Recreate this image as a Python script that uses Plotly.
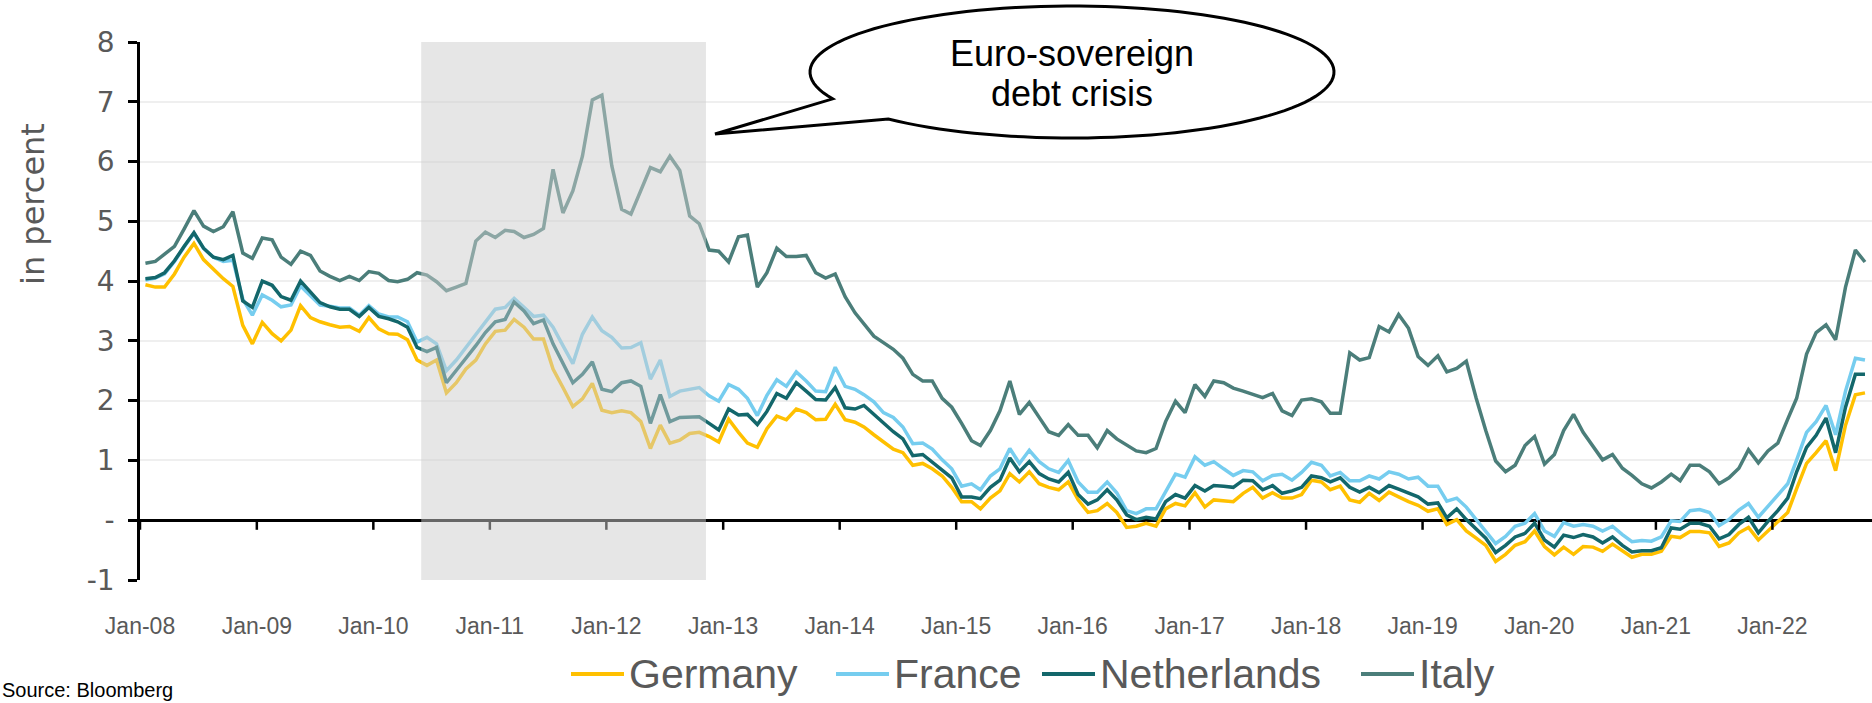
import math
import pandas as pd
import plotly.graph_objects as go

germany = [
    3.94, 3.90, 3.90, 4.12, 4.40, 4.63, 4.36, 4.20, 4.04, 3.91,
    3.26, 2.95, 3.31, 3.12, 3.00, 3.18, 3.59, 3.39, 3.32, 3.27,
    3.23, 3.24, 3.16, 3.39, 3.20, 3.12, 3.11, 3.02, 2.68, 2.59,
    2.68, 2.13, 2.30, 2.53, 2.68, 2.95, 3.16, 3.18, 3.36, 3.23,
    3.03, 3.03, 2.53, 2.22, 1.90, 2.03, 2.29, 1.84, 1.80, 1.83,
    1.80, 1.65, 1.20, 1.59, 1.29, 1.34, 1.45, 1.47, 1.40, 1.31,
    1.69, 1.47, 1.29, 1.22, 1.53, 1.74, 1.68, 1.86, 1.80, 1.68,
    1.69, 1.94, 1.68, 1.64, 1.56, 1.43, 1.31, 1.19, 1.13, 0.92,
    0.95, 0.86, 0.74, 0.55, 0.31, 0.31, 0.19, 0.37, 0.49, 0.78,
    0.64, 0.81, 0.61, 0.55, 0.51, 0.64, 0.34, 0.13, 0.16, 0.28,
    0.13, -0.12, -0.10, -0.05, -0.10, 0.19, 0.28, 0.24, 0.46, 0.22,
    0.34, 0.32, 0.31, 0.45, 0.55, 0.37, 0.46, 0.37, 0.37, 0.43,
    0.67, 0.64, 0.51, 0.57, 0.34, 0.30, 0.45, 0.33, 0.47, 0.39,
    0.31, 0.25, 0.15, 0.19, -0.07, 0.01, -0.18, -0.30, -0.42, -0.69,
    -0.57, -0.42, -0.36, -0.18, -0.44, -0.58, -0.45, -0.57, -0.44, -0.45,
    -0.52, -0.40, -0.52, -0.62, -0.57, -0.57, -0.52, -0.27, -0.29, -0.19,
    -0.19, -0.21, -0.44, -0.38, -0.21, -0.12, -0.33, -0.18, -0.02, 0.13,
    0.53, 0.95, 1.13, 1.33, 0.83, 1.59, 2.10, 2.13,
]

france = [
    4.02, 4.05, 4.12, 4.33, 4.57, 4.80, 4.55, 4.40, 4.33, 4.35,
    3.70, 3.43, 3.77, 3.68, 3.57, 3.60, 3.92, 3.75, 3.60, 3.58,
    3.55, 3.55, 3.43, 3.59, 3.45, 3.40, 3.40, 3.32, 2.98, 3.06,
    2.95, 2.50, 2.68, 2.89, 3.11, 3.32, 3.53, 3.56, 3.71, 3.56,
    3.41, 3.43, 3.23, 2.92, 2.62, 3.11, 3.40, 3.17, 3.06, 2.88,
    2.89, 2.97, 2.36, 2.68, 2.07, 2.16, 2.19, 2.22, 2.08, 1.99,
    2.27, 2.19, 2.04, 1.75, 2.09, 2.35, 2.24, 2.48, 2.33, 2.16,
    2.15, 2.56, 2.24, 2.19, 2.10, 1.98, 1.80, 1.72, 1.56, 1.28,
    1.29, 1.19, 1.01, 0.86, 0.57, 0.61, 0.51, 0.74, 0.86, 1.20,
    0.95, 1.17, 0.98, 0.86, 0.80, 1.00, 0.64, 0.47, 0.47, 0.64,
    0.46, 0.16, 0.11, 0.19, 0.19, 0.49, 0.77, 0.72, 1.06, 0.92,
    0.98, 0.86, 0.75, 0.83, 0.81, 0.66, 0.75, 0.77, 0.67, 0.80,
    0.97, 0.92, 0.74, 0.80, 0.66, 0.66, 0.74, 0.69, 0.81, 0.77,
    0.69, 0.72, 0.57, 0.57, 0.32, 0.37, 0.22, 0.01, -0.18, -0.39,
    -0.27, -0.10, -0.05, 0.11, -0.18, -0.27, -0.04, -0.10, -0.07, -0.10,
    -0.18, -0.10, -0.24, -0.36, -0.34, -0.35, -0.28, -0.01, -0.02, 0.16,
    0.18, 0.13, -0.09, 0.01, 0.17, 0.28, 0.05, 0.23, 0.43, 0.61,
    1.01, 1.47, 1.65, 1.92, 1.43, 2.16, 2.71, 2.68,
]

netherlands = [
    4.04, 4.06, 4.14, 4.34, 4.58, 4.81, 4.55, 4.40, 4.36, 4.43,
    3.67, 3.56, 4.00, 3.93, 3.74, 3.68, 4.00, 3.81, 3.64, 3.57,
    3.53, 3.53, 3.41, 3.56, 3.41, 3.37, 3.32, 3.23, 2.89, 2.82,
    2.89, 2.30, 2.50, 2.71, 2.92, 3.14, 3.32, 3.36, 3.65, 3.50,
    3.29, 3.35, 2.95, 2.62, 2.30, 2.44, 2.65, 2.19, 2.15, 2.30,
    2.33, 2.24, 1.62, 2.10, 1.65, 1.72, 1.73, 1.73, 1.62, 1.51,
    1.86, 1.76, 1.77, 1.60, 1.82, 2.12, 2.04, 2.30, 2.16, 2.02,
    2.01, 2.22, 1.88, 1.86, 1.92, 1.77, 1.62, 1.48, 1.36, 1.08,
    1.10, 0.98, 0.84, 0.71, 0.39, 0.39, 0.36, 0.55, 0.67, 1.04,
    0.81, 0.98, 0.78, 0.69, 0.64, 0.80, 0.43, 0.27, 0.34, 0.51,
    0.34, 0.09, 0.01, 0.05, 0.02, 0.31, 0.43, 0.37, 0.58, 0.49,
    0.58, 0.57, 0.55, 0.67, 0.66, 0.51, 0.58, 0.45, 0.49, 0.55,
    0.74, 0.71, 0.64, 0.71, 0.55, 0.47, 0.55, 0.46, 0.58, 0.52,
    0.45, 0.39, 0.27, 0.29, 0.04, 0.19, 0.01, -0.15, -0.30, -0.54,
    -0.42, -0.28, -0.22, -0.05, -0.33, -0.45, -0.25, -0.29, -0.24, -0.28,
    -0.38, -0.28, -0.42, -0.53, -0.51, -0.51, -0.46, -0.13, -0.15, -0.05,
    -0.05, -0.10, -0.31, -0.24, -0.07, 0.05, -0.21, -0.02, 0.16, 0.37,
    0.81, 1.22, 1.42, 1.71, 1.13, 1.89, 2.44, 2.44,
]

italy = [
    4.30, 4.33, 4.45, 4.58, 4.87, 5.18, 4.92, 4.83, 4.91, 5.16,
    4.47, 4.38, 4.72, 4.69, 4.40, 4.28, 4.50, 4.43, 4.17, 4.08,
    4.01, 4.08, 4.01, 4.16, 4.13, 4.01, 3.99, 4.03, 4.14, 4.10,
    3.99, 3.84, 3.90, 3.96, 4.67, 4.82, 4.73, 4.85, 4.83, 4.73,
    4.78, 4.88, 5.87, 5.14, 5.51, 6.09, 7.03, 7.11, 5.93, 5.20,
    5.12, 5.52, 5.90, 5.83, 6.09, 5.85, 5.09, 4.96, 4.52, 4.50,
    4.32, 4.74, 4.77, 3.90, 4.14, 4.55, 4.41, 4.41, 4.43, 4.14,
    4.05, 4.12, 3.74, 3.47, 3.29, 3.08, 2.97, 2.86, 2.71, 2.44,
    2.33, 2.33, 2.04, 1.89, 1.62, 1.33, 1.25, 1.50, 1.83, 2.33,
    1.77, 1.97, 1.72, 1.48, 1.42, 1.60, 1.42, 1.42, 1.21, 1.50,
    1.36, 1.26, 1.16, 1.13, 1.20, 1.65, 1.99, 1.80, 2.27, 2.07,
    2.33, 2.30, 2.21, 2.16, 2.10, 2.05, 2.12, 1.83, 1.75, 2.01,
    2.03, 1.98, 1.79, 1.79, 2.80, 2.68, 2.72, 3.24, 3.15, 3.44,
    3.21, 2.74, 2.59, 2.75, 2.48, 2.54, 2.66, 2.04, 1.50, 0.99,
    0.81, 0.92, 1.25, 1.40, 0.94, 1.10, 1.50, 1.77, 1.47, 1.24,
    1.01, 1.10, 0.87, 0.75, 0.61, 0.54, 0.64, 0.77, 0.66, 0.92,
    0.92, 0.81, 0.61, 0.71, 0.87, 1.18, 0.96, 1.16, 1.29, 1.69,
    2.04, 2.78, 3.14, 3.27, 3.02, 3.90, 4.52, 4.32,
]

series_names = ["Germany", "France", "Netherlands", "Italy"]
series_values = [germany, france, netherlands, italy]
series_colors = ["#FFC000", "#76CDEF", "#13676B", "#4B7E7A"]

crisis_start = "2010-05-31"
crisis_end = "2012-11-08"

W, H = 1872, 703
ML, MR, MT, MB = 140, 0, 42, 123
PW = W - ML - MR
PH = H - MT - MB
grey = "#595959"


def px_to_paper(px, py):
    return (px - ML) / PW, (H - MB - py) / PH


fig = go.Figure()
for name, vals, col in zip(series_names, series_values, series_colors):
    dates = pd.date_range("2008-01-01", periods=len(vals), freq="MS") + pd.Timedelta(days=17)
    fig.add_trace(go.Scatter(x=dates, y=vals, mode="lines", name=name,
                             line=dict(color=col, width=3.5), showlegend=False))

shapes = []
annotations = []

# tick marks hanging below the zero line
for yr in range(2008, 2023):
    shapes.append(dict(type="line", xref="x", yref="y",
                       x0=f"{yr}-01-01", x1=f"{yr}-01-01", y0=0, y1=-0.16,
                       line=dict(color="black", width=2.5), layer="above"))
# shaded crisis period
shapes.append(dict(type="rect", xref="x", yref="paper", x0=crisis_start, x1=crisis_end,
                   y0=0, y1=1, fillcolor="rgba(205,205,205,0.5)", line=dict(width=0),
                   layer="above"))

# speech bubble
cx, cy, rx, ry = 1072, 72, 262, 66
tip = (715, 134)
t1 = math.radians(156)
t2 = math.radians(134.5 + 360)
pts = []
n = 120
for k in range(n + 1):
    t = t1 + (t2 - t1) * k / n
    pts.append((cx + rx * math.cos(t), cy + ry * math.sin(t)))
pts.append(tip)
path = ""
for k, (px, py) in enumerate(pts):
    xx, yy = px_to_paper(px, py)
    path += ("M" if k == 0 else "L") + f"{xx:.5f},{yy:.5f} "
path += "Z"
shapes.append(dict(type="path", xref="paper", yref="paper", path=path,
                   fillcolor="white", line=dict(color="black", width=3), layer="above"))

for txt, py in [("Euro-sovereign", 53), ("debt crisis", 94)]:
    xx, yy = px_to_paper(1072, py)
    annotations.append(dict(text=txt, xref="paper", yref="paper", x=xx, y=yy,
                            xanchor="center", yanchor="middle", showarrow=False,
                            font=dict(family="Liberation Sans, Arial", size=36, color="black")))

# y-axis title
tx, ty = px_to_paper(33, 204)
annotations.append(dict(text="in percent", xref="paper", yref="paper", x=tx, y=ty,
                        xanchor="center", yanchor="middle", textangle=-90, showarrow=False,
                        font=dict(family="DejaVu Sans", size=32, color=grey)))

# legend (drawn manually to match line length and spacing)
legend_line_x = [571, 836, 1042, 1361]
legend_y = 674
for name, col, lx in zip(series_names, series_colors, legend_line_x):
    x0, y0 = px_to_paper(lx, legend_y)
    x1, _ = px_to_paper(lx + 53, legend_y)
    shapes.append(dict(type="line", xref="paper", yref="paper", x0=x0, x1=x1, y0=y0, y1=y0,
                       line=dict(color=col, width=4)))
    tx0, ty0 = px_to_paper(lx + 56, legend_y)
    annotations.append(dict(text=name, xref="paper", yref="paper", x=tx0, y=ty0,
                            xanchor="left", yanchor="middle", showarrow=False,
                            font=dict(family="Liberation Sans, Arial", size=41, color=grey)))

sx, sy = px_to_paper(0, 703)
annotations.append(dict(text="Source: Bloomberg", xref="paper", yref="paper", x=sx, y=sy,
                        xanchor="left", yanchor="bottom", showarrow=False,
                        font=dict(family="Liberation Sans, Arial", size=20, color="black")))

fig.update_layout(
    width=W, height=H,
    margin=dict(l=ML, r=MR, t=MT, b=MB, pad=0),
    paper_bgcolor="white", plot_bgcolor="white",
    shapes=shapes, annotations=annotations,
    showlegend=False,
    xaxis=dict(type="date", range=["2008-01-01", "2022-11-09"],
               tickformat="%b-%y", dtick="M12", tick0="2008-01-01",
               showgrid=False, showline=False, zeroline=False,
               ticks="outside", ticklen=25, tickcolor="rgba(0,0,0,0)",
               tickfont=dict(family="Liberation Sans, Arial", size=23, color=grey)),
    yaxis=dict(range=[-1, 8], tickvals=list(range(-1, 9)),
               ticktext=["-1", "-"] + [str(v) for v in range(1, 9)],
               showgrid=True, gridcolor="#EFEFEF", gridwidth=2,
               zeroline=True, zerolinecolor="black", zerolinewidth=2.5,
               showline=True, linecolor="black", linewidth=2.5,
               ticks="outside", ticklen=9, tickwidth=2.5, tickcolor="black",
               ticklabelstandoff=8,
               tickfont=dict(family="DejaVu Sans", size=28, color=grey)),
)

fig.write_html("out.html")
